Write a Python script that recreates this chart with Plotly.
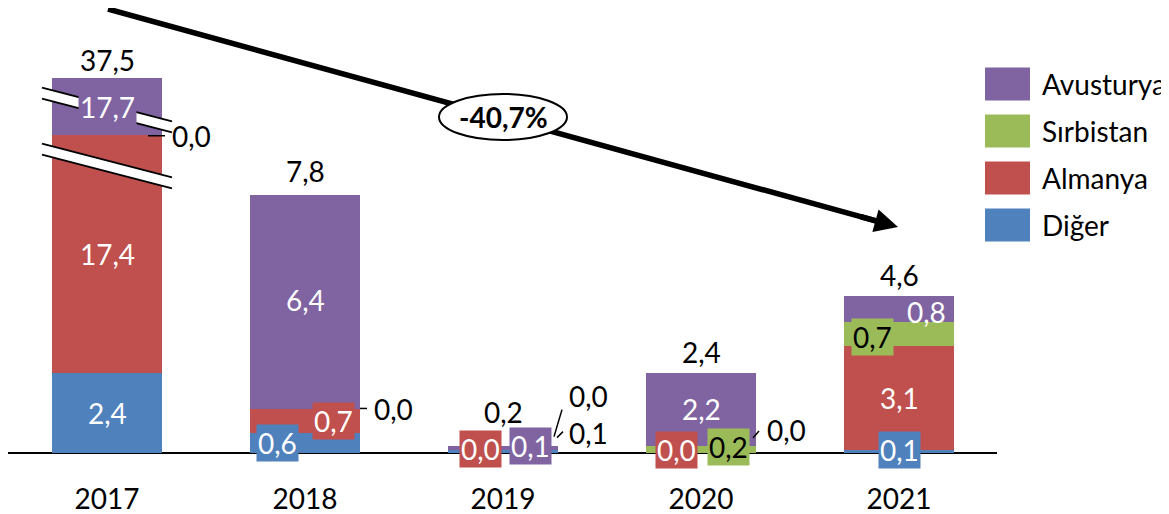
import plotly.graph_objects as go

# ---- data ----
years = ["2017", "2018", "2019", "2020", "2021"]
series = ["Diğer", "Almanya", "Sırbistan", "Avusturya"]
colors = ["#4F81BD", "#C0504D", "#9BBB59", "#8064A2"]
diger = [2.4, 0.6, 0.1, 0.0, 0.1]
almanya = [17.4, 0.7, 0.0, 0.0, 3.1]
sirbistan = [0.0, 0.0, 0.0, 0.2, 0.7]
avusturya = [17.7, 6.4, 0.1, 2.2, 0.8]
totals = [37.5, 7.8, 0.2, 2.4, 4.6]
change_label = "-40,7%"
# 2017 column is cut by two axis breaks: heights as shown on the page
shown_2017 = [2.4, 7.1, 0.0, 1.7]

values = [diger, almanya, sirbistan, avusturya]


def fmt(v):
    return f"{v:.1f}".replace(".", ",")


# ---- geometry (page pixels; the page body has an 8px margin) ----
BODY = 8
PAGE_W, PAGE_H = 1169, 514
W, H = PAGE_W - BODY, PAGE_H - BODY
PL, PR, PT, PB = 8, 997, 8, 474  # plot area edges on the page
X0_PX, X_STEP = 107, 198  # centre of first bar, distance between bars
BASE_PX, Y_STEP = 453, 33.5  # zero line, pixels per unit
BAR_W = 110 / X_STEP
x_range = [(PL - X0_PX) / X_STEP, (PR - X0_PX) / X_STEP]
y_range = [(BASE_PX - PB) / Y_STEP, (BASE_PX - PT) / Y_STEP]


def dx(px):  # pixel offset -> x units
    return px / X_STEP


def dy(px):  # pixel offset (down positive) -> y units
    return -px / Y_STEP


def xdat(px):
    return (px - X0_PX) / X_STEP


def ydat(py):
    return (BASE_PX - py) / Y_STEP


def paper_x(px):
    return (px - PL) / (PR - PL)


def paper_y(py):
    return (PB - py) / (PB - PT)


FONT = "Lato, 'Open Sans', sans-serif"
FS = 28

fig = go.Figure()
shown = [[shown_2017[s] if i == 0 else values[s][i] for i in range(len(years))]
         for s in range(len(series))]
xs = list(range(len(years)))
for s, name in enumerate(series):
    fig.add_bar(x=xs, y=shown[s], name=name, marker_color=colors[s],
                marker_line_width=0, width=BAR_W, hoverinfo="skip",
                showlegend=False)

# cumulative bottoms of each segment (as drawn)
bottoms = []
for i in range(len(years)):
    acc, col = 0.0, []
    for s in range(len(series)):
        col.append(acc)
        acc += shown[s][i]
    bottoms.append(col)
tops = [bottoms[i][-1] + shown[-1][i] for i in range(len(years))]

# label placement: kind, x shift, y shift (pixels, down positive)
label_style = {
    (0, 0): ("in", 0, 0), (0, 1): ("in", 0, 0), (0, 2): ("side", 8, 1), (0, 3): ("box", 0, 1),
    (1, 0): ("box", -28, 0), (1, 1): ("box", 28, 0), (1, 2): ("side", 12, 0), (1, 3): ("in", 0, -2),
    (2, 0): ("side", 9, -17), (2, 1): ("box", -23, -1), (2, 2): ("side", 9, -54), (2, 3): ("box", 27, -2),
    (3, 0): ("side", 9, -23), (3, 1): ("box", -25, -3), (3, 2): ("box", 27, -3), (3, 3): ("in", 0, 0),
    (4, 0): ("box", 0, -1), (4, 1): ("in", 0, 0), (4, 2): ("box", -27, 3), (4, 3): ("in", 27, 3),
}
# leader lines for side labels: start/end offsets from the anchor (pixels)
leaders = {
    (0, 2): ((-14, 1), (3, 1)),
    (1, 2): ((0, -1), (7, -1)),
    (2, 0): ((-1, -12), (5, -18)),
    (2, 2): ((-4, -13), (4, -40)),
    (3, 0): ((-3, -15), (3, -22)),
}
total_shift = [18, 24, 34, 21, 21]

annotations = []
shapes = []

for (i, s), (kind, sx, sy) in label_style.items():
    text = fmt(values[s][i])
    if kind == "side":
        ax = i + BAR_W / 2
        ay = bottoms[i][s] + shown[s][i]
        annotations.append(dict(x=ax, y=ay, text=text, showarrow=False,
                                xanchor="left", yanchor="middle",
                                xshift=sx, yshift=-sy,
                                font=dict(family=FONT, size=FS, color="black")))
        (a0, b0), (a1, b1) = leaders[(i, s)]
        shapes.append(dict(type="line", x0=ax + dx(a0), y0=ay + dy(b0),
                           x1=ax + dx(a1), y1=ay + dy(b1),
                           line=dict(color="black", width=1.5), layer="above"))
    else:
        ym = bottoms[i][s] + shown[s][i] / 2
        txt_col = "black" if (kind == "box" and s == 2) else "white"
        ann = dict(x=i, y=ym, text=text, showarrow=False, xanchor="center",
                   yanchor="middle", xshift=sx, yshift=-sy,
                   font=dict(family=FONT, size=FS, color=txt_col))
        if kind == "box":
            ann.update(bgcolor=colors[s], borderpad=1)
        annotations.append(ann)

for i, t in enumerate(totals):
    annotations.append(dict(x=i, y=tops[i], text=fmt(t), showarrow=False,
                            xanchor="center", yanchor="middle",
                            yshift=total_shift[i],
                            font=dict(family=FONT, size=FS, color="black")))

# axis-break marks on the 2017 column
for centre_py in (166, 110):
    c = ydat(centre_py)
    half = dx(65)
    rise = 65 * 0.26 / Y_STEP
    th = 5.5 / Y_STEP
    xl, xr = -half, half
    path = (f"M {xl},{c + rise + th} L {xr},{c - rise + th} "
            f"L {xr},{c - rise - th} L {xl},{c + rise - th} Z")
    shapes.append(dict(type="path", path=path, fillcolor="white",
                       line=dict(width=0), layer="above"))
    for sgn in (1, -1):
        shapes.append(dict(type="line", x0=xl, y0=c + rise + sgn * th,
                           x1=xr, y1=c - rise + sgn * th,
                           line=dict(color="black", width=2), layer="above"))

# trend arrow with the change badge
start_px, tip_px = (108, 9), (898, 227)
ux = (tip_px[0] - start_px[0])
uy = (tip_px[1] - start_px[1])
norm = (ux ** 2 + uy ** 2) ** 0.5
ux, uy = ux / norm, uy / norm
shaft_end = (tip_px[0] - 20 * ux, tip_px[1] - 20 * uy)
shapes.append(dict(type="line", x0=xdat(start_px[0]), y0=ydat(start_px[1]),
                   x1=xdat(shaft_end[0]), y1=ydat(shaft_end[1]),
                   line=dict(color="black", width=5.5), layer="above"))
annotations.append(dict(x=xdat(tip_px[0]), y=ydat(tip_px[1]), text="",
                        showarrow=True, arrowhead=2, arrowsize=0.85,
                        arrowwidth=5.5, arrowcolor="black",
                        ax=-40 * ux, ay=-40 * uy, standoff=0))
shapes.append(dict(type="circle", x0=xdat(439), x1=xdat(567),
                   y0=ydat(140), y1=ydat(94), fillcolor="white",
                   line=dict(color="black", width=2), layer="above"))
annotations.append(dict(x=xdat(503), y=ydat(117), text=f"<b>{change_label}</b>",
                        showarrow=False, xanchor="center", yanchor="middle",
                        font=dict(family=FONT, size=28, color="black")))

# legend drawn as large swatches
for k, s in enumerate(reversed(range(len(series)))):
    yc = 84 + 47 * k
    shapes.append(dict(type="rect", xref="paper", yref="paper",
                       x0=paper_x(985), x1=paper_x(1030),
                       y0=paper_y(yc + 16.5), y1=paper_y(yc - 16.5),
                       fillcolor=colors[s], line=dict(width=0)))
    annotations.append(dict(xref="paper", yref="paper", x=paper_x(1040),
                            y=paper_y(yc), text=series[s], showarrow=False,
                            xanchor="left", yanchor="middle",
                            font=dict(family=FONT, size=28, color="black")))

fig.update_layout(
    barmode="stack",
    width=W, height=H,
    margin=dict(l=PL - BODY, r=PAGE_W - PR, t=PT - BODY, b=PAGE_H - PB, pad=0),
    plot_bgcolor="white", paper_bgcolor="white",
    font=dict(family=FONT, size=FS, color="black"),
    shapes=shapes, annotations=annotations,
    showlegend=False,
)
fig.update_xaxes(range=x_range, tickvals=xs, ticktext=years, ticks="",
                 showline=False, showgrid=False, zeroline=False,
                 ticklabelstandoff=6,
                 tickfont=dict(family=FONT, size=FS, color="black"))
fig.update_yaxes(range=y_range, showticklabels=False, showgrid=False,
                 zeroline=True, zerolinecolor="black", zerolinewidth=2,
                 ticks="")

fig.write_html("out.html")
